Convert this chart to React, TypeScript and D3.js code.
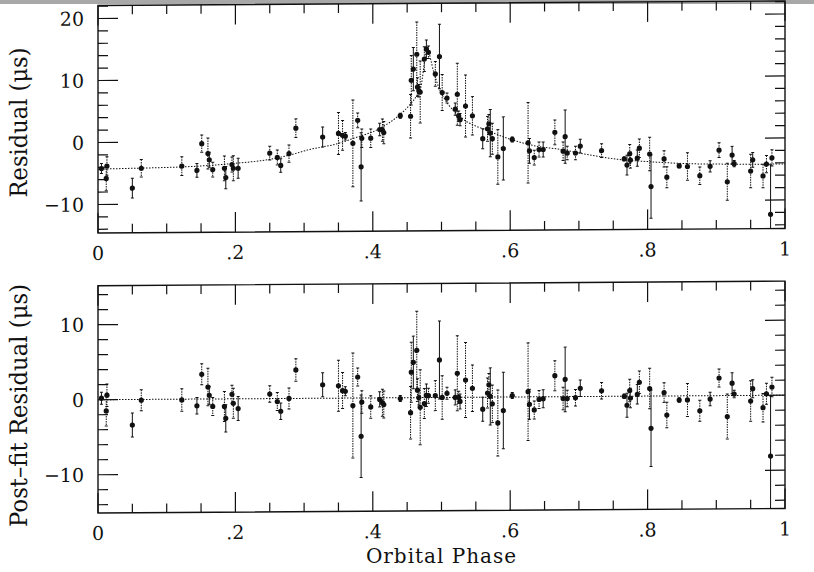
import React from "react";
import * as d3 from "d3";

// orbital phase of each TOA group, residual before fit, post-fit residual, 1-sigma error (us)
const phase = [
  0.005, 0.012, 0.013, 0.05, 0.063, 0.122, 0.144, 0.151, 0.16, 0.162,
  0.167, 0.184, 0.186, 0.195, 0.197, 0.204, 0.25, 0.261, 0.266, 0.278,
  0.288, 0.327, 0.35, 0.356, 0.36, 0.371, 0.378, 0.383, 0.384, 0.397,
  0.41, 0.414, 0.416, 0.44, 0.455, 0.456, 0.459, 0.464, 0.465, 0.467,
  0.469, 0.475, 0.478, 0.481, 0.491, 0.497, 0.501, 0.508, 0.52, 0.523,
  0.525, 0.527, 0.535, 0.545, 0.56, 0.567, 0.569, 0.571, 0.574, 0.582,
  0.59, 0.603, 0.626, 0.628, 0.635, 0.642, 0.648, 0.665, 0.677, 0.68,
  0.683, 0.695, 0.702, 0.733, 0.766, 0.77, 0.774, 0.775, 0.785, 0.788,
  0.803, 0.805, 0.824, 0.828, 0.846, 0.858, 0.876, 0.891, 0.904, 0.916,
  0.923, 0.926, 0.95, 0.953, 0.968, 0.973, 0.979, 0.981,
];
const residual = [
  -4.2, -5.8, -3.8, -7.4, -4.2, -3.9, -4.6, -0.3, -1.9, -2.9,
  -4.5, -4.3, -5.8, -3.7, -4.3, -4.3, -1.9, -2.6, -3.9, -2.0,
  2.1, 0.65, 1.2, 0.9, 0.75, -0.4, 3.3, -4.2, 0.4, 0.4,
  1.8, 1.7, 1.3, 4.0, 3.9, 9.7, 11.5, 13.9, 8.6, 8.0,
  7.8, 13.1, 14.7, 14.2, 10.7, 13.5, 7.7, 6.8, 5.0, 7.4,
  3.9, 3.3, 5.5, 3.9, 0.2, 1.8, 2.6, 1.1, 0.2, -2.75,
  -1.4, 0.05, -0.5, -1.8, -2.9, -1.6, -1.6, 1.15, -1.9, 0.45,
  -2.2, -2.2, -1.1, -1.85, -3.2, -4.2, -2.4, -3.4, -3.1, -1.5,
  -2.45, -7.7, -3.25, -6.2, -4.4, -4.5, -6.0, -4.5, -1.9, -7.0,
  -2.7, -4.1, -5.3, -3.5, -6.1, -4.2, -12.3, -3.2,
];
const postFit = [
  0.2, -1.5, 0.6, -3.4, -0.1, -0.1, -0.9, 3.3, 1.6, 0.5,
  -1.0, -1.0, -2.6, 0.6, -0.6, -1.3, 0.6, -0.4, -1.7, 0.0,
  3.8, 1.8, 1.65, 1.0, 0.9, -1.0, 2.8, -5.1, -0.55, -1.2,
  -0.2, -0.65, -0.9, -0.1, -2.0, 3.4, 4.7, 6.3, 1.0, 0.0,
  -1.3, -0.8, 0.3, 0.25, 0.25, 5.0, 0.0, 0.55, 0.0, 3.2,
  0.0, -0.55, 2.3, 1.2, -1.6, 0.55, 1.65, 0.1, -0.9, -3.45,
  -1.8, 0.2, 0.7, -1.0, -1.75, -0.35, -0.25, 2.8, -0.25, 2.3,
  -0.25, -0.15, 1.1, 0.75, 0.0, -1.2, 0.75, -0.25, 0.25, 1.85,
  1.0, -4.3, 0.45, -2.55, -0.55, -0.55, -2.0, -0.45, 2.35, -2.8,
  1.65, 0.2, -0.75, 0.9, -1.65, 0.2, -8.1, 1.1,
];
const sigma = [
  0.8, 2.0, 1.5, 1.6, 1.4, 1.5, 1.1, 1.4, 2.5, 1.2,
  1.2, 2.0, 1.8, 1.2, 2.0, 1.6, 1.1, 1.2, 1.1, 1.4,
  1.5, 1.6, 3.4, 2.4, 0.6, 7.0, 1.2, 5.5, 1.5, 1.5,
  1.0, 1.8, 1.8, 0.4, 3.5, 4.0, 3.5, 5.2, 1.5, 1.0,
  5.0, 2.0, 1.5, 1.0, 2.0, 5.2, 2.9, 0.8, 1.0, 5.0,
  0.8, 1.0, 5.0, 3.1, 1.6, 2.0, 1.5, 3.8, 2.5, 4.4,
  5.1, 0.4, 6.5, 2.0, 1.2, 1.2, 1.2, 2.0, 1.5, 4.3,
  1.1, 1.1, 1.1, 1.1, 0.3, 1.6, 1.5, 1.3, 1.3, 1.5,
  2.7, 5.1, 1.3, 1.7, 0.3, 2.2, 1.4, 0.9, 1.2, 3.0,
  1.4, 0.5, 2.7, 1.2, 1.9, 1.4, 8.0, 1.3,
];

// fitted orbit model
const fitPhase = [
  0, 0.05, 0.1, 0.15, 0.2, 0.25, 0.28, 0.31, 0.345, 0.372, 0.41, 0.438,
  0.455, 0.465, 0.47, 0.477, 0.479, 0.489, 0.496, 0.506, 0.528, 0.567,
  0.6, 0.64, 0.673, 0.707, 0.756, 0.805, 0.878, 0.975, 1,
];
const fitResidual = [
  -4.3, -4.2, -4.1, -3.9, -3.5, -2.9, -2.2, -1.3, -0.55, 0.4, 1.95, 4.05,
  5.9, 7.4, 8.6, 13.8, 14.6, 10.9, 8.5, 6.4, 3.7, 1.5,
  0.1, -1.1, -1.6, -2.35, -3.25, -3.7, -4.1, -4.2, -4.2,
];

const xTickValues = [0, 0.2, 0.4, 0.6, 0.8, 1];
const xTickLabels = ["0", ".2", ".4", ".6", ".8", "1"];
const topTickValues = [20, 10, 0, -10];
const topTickLabels = ["20", "10", "0", "\u221210"];
const botTickValues = [10, 0, -10];
const botTickLabels = ["10", "0", "\u221210"];

const FONT = "DejaVu Serif, Liberation Serif, serif";
const x = d3.scaleLinear().domain([0, 1]).range([98, 785]);
const yTop = d3.scaleLinear().domain([-14.6, 22.1]).range([233, 5.5]);
const yBot = d3.scaleLinear().domain([-15.1, 15.2]).range([513, 285.7]);
// the scanned page is slightly skewed
const skew = -0.0066;

const Panel = ({ y, values, major, labels, line, id, title, titleY, titleLen }) => {
  const [x0, x1] = x.range();
  const [yb, yt] = y.range();
  const minorX = d3.range(0, 1.0001, 0.05);
  const [dmin, dmax] = y.domain();
  const minorY = d3.range(Math.ceil(dmin / 2) * 2, dmax, 2);
  const ink = "#111";
  return (
    <g>
      <clipPath id={id}>
        <rect x={x0} y={yt} width={x1 - x0} height={yb - yt} />
      </clipPath>
      <g clipPath={`url(#${id})`}>
        <path d={line} fill="none" stroke={ink} strokeWidth={1} strokeDasharray="1.5 1.5" />
        {phase.map((p, i) => {
          const cx = x(p);
          const hi = y(values[i] + sigma[i]);
          const lo = y(values[i] - sigma[i]);
          return (
            <g key={i} stroke={ink} strokeWidth={1}>
              <line x1={cx} x2={cx} y1={hi} y2={lo} strokeDasharray={i % 3 === 0 ? null : "1.5 1"} />
              <line x1={cx - 1.5} x2={cx + 1.5} y1={hi} y2={hi} />
              <line x1={cx - 1.5} x2={cx + 1.5} y1={lo} y2={lo} />
              <circle cx={cx} cy={y(values[i])} r={2.6} fill={ink} stroke="none" />
            </g>
          );
        })}
      </g>
      <rect x={x0} y={yt} width={x1 - x0} height={yb - yt} fill="none" stroke={ink} strokeWidth={1.4} />
      <g stroke={ink} strokeWidth={1.2}>
        {minorX.map((t, i) => {
          const len = xTickValues.some((m) => Math.abs(m - t) < 1e-6) ? 20 : 9;
          return (
            <g key={i}>
              <line x1={x(t)} x2={x(t)} y1={yb} y2={yb - len} />
              <line x1={x(t)} x2={x(t)} y1={yt} y2={yt + len} />
            </g>
          );
        })}
        {minorY.map((t, i) => {
          const len = major.includes(t) ? 20 : 10;
          return (
            <g key={i}>
              <line x1={x0} x2={x0 + len} y1={y(t)} y2={y(t)} />
              <line x1={x1} x2={x1 - len} y1={y(t)} y2={y(t)} />
            </g>
          );
        })}
      </g>
      <g fontFamily={FONT} fontSize={19} fill={ink}>
        {major.map((t, i) => (
          <text key={i} x={84} y={y(t) + 7} textAnchor="end">
            {labels[i]}
          </text>
        ))}
        {xTickValues.map((t, i) => (
          <text key={i} x={x(t)} y={yb + 27} textAnchor="middle">
            {xTickLabels[i]}
          </text>
        ))}
      </g>
      <text
        transform={`translate(27, ${titleY}) rotate(-90)`}
        textAnchor="middle"
        fontFamily={FONT}
        fontSize={24}
        fill={ink}
        textLength={titleLen}
        lengthAdjust="spacingAndGlyphs"
      >
        {title}
      </text>
    </g>
  );
};

export default function App() {
  const fitLine = d3
    .line<number>()
    .x((d, i) => x(fitPhase[i]))
    .y((d) => yTop(d))
    .curve(d3.curveMonotoneX)(fitResidual);
  const zeroLine = d3
    .line<number>()
    .x((d) => x(d))
    .y(() => yBot(0))(x.domain());

  return (
    <svg
      width={814}
      height={572}
      style={{ position: "absolute", left: 0, top: 0, background: "#fff" }}
    >
      <rect x={0} y={0} width={814} height={4} fill="#a8a8a8" />
      <g transform={`matrix(1, ${skew}, 0, 1, 0, ${-skew * 98})`}>
        <Panel
          y={yTop}
          values={residual}
          major={topTickValues}
          labels={topTickLabels}
          line={fitLine}
          id="clipTop"
          title="Residual (μs)"
          titleY={122}
          titleLen={150}
        />
        <Panel
          y={yBot}
          values={postFit}
          major={botTickValues}
          labels={botTickLabels}
          line={zeroLine}
          id="clipBot"
          title="Post–fit Residual (μs)"
          titleY={405}
          titleLen={243}
        />
      </g>
      <text
        x={(x.range()[0] + x.range()[1]) / 2}
        y={563}
        textAnchor="middle"
        fontFamily={FONT}
        fontSize={20}
        letterSpacing={1}
        fill="#111"
      >
        Orbital Phase
      </text>
    </svg>
  );
}
